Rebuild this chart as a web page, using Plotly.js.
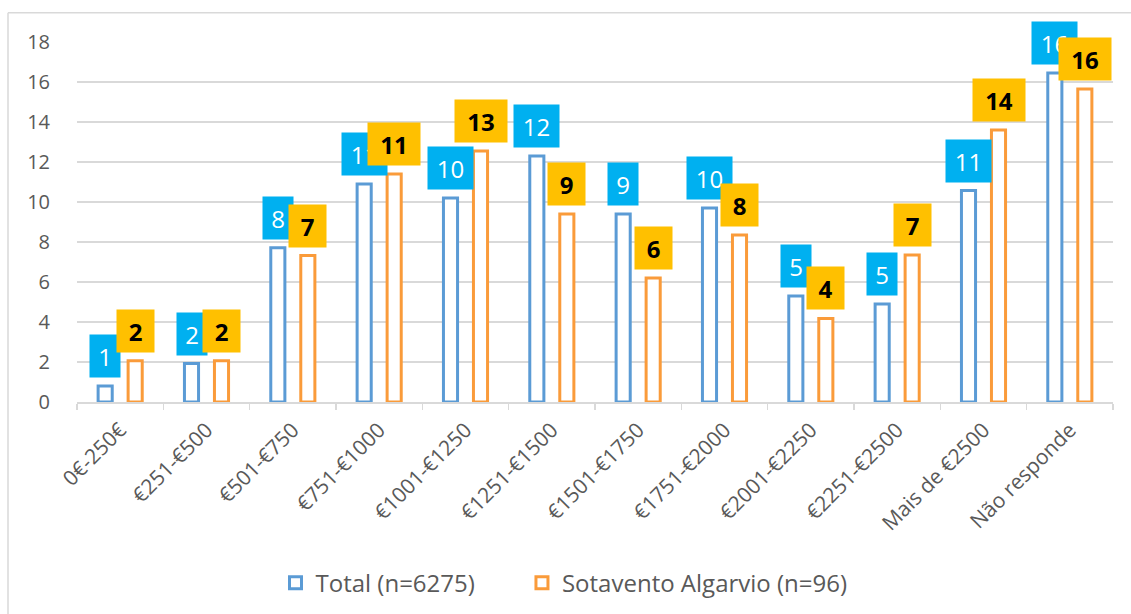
<!DOCTYPE html>
<html>
<head>
<meta charset="utf-8">
<script src="https://cdn.plot.ly/plotly-3.0.1.min.js"></script>
<style>
  html, body { margin: 0; padding: 0; background: #ffffff; }
  #chart { width: 1131px; height: 614px; }
</style>
</head>
<body>
<div id="chart"></div>
<script>
const categories = ['0€-250€', '€251-€500', '€501-€750', '€751-€1000', '€1001-€1250', '€1251-€1500',
  '€1501-€1750', '€1751-€2000', '€2001-€2250', '€2251-€2500', 'Mais de €2500', 'Não responde'];
const totalValues = [0.8, 1.92, 7.71, 10.9, 10.2, 12.3, 9.4, 9.7, 5.3, 4.9, 10.57, 16.45];
const sotaventoValues = [2.06, 2.06, 7.32, 11.4, 12.55, 9.4, 6.2, 8.35, 4.18, 7.35, 13.6, 15.65];
const seriesNames = ['Total (n=6275)', 'Sotavento Algarvio (n=96)'];
const yTicks = [0, 2, 4, 6, 8, 10, 12, 14, 16, 18];

const FONT = 'Open Sans, Noto Sans, DejaVu Sans, sans-serif';
const blue = '#5B9BD5', orange = '#FA9B3A';
const blueBox = '#00B0F0', orangeBox = '#FFC000';

const traces = [
  {
    type: 'bar', name: seriesNames[0], x: categories, y: totalValues,
    marker: { color: '#ffffff', line: { color: blue, width: 3 } },
    legend: 'legend',
    hoverinfo: 'x+y'
  },
  {
    type: 'bar', name: seriesNames[1], x: categories, y: sotaventoValues,
    marker: { color: '#ffffff', line: { color: orange, width: 3 } },
    legend: 'legend2',
    hoverinfo: 'x+y'
  }
];

const annotations = [];
function addLabels(values, shift, bg, fontColor, bold, wSingle, wDouble) {
  values.forEach((v, i) => {
    const txt = String(Math.round(v));
    annotations.push({
      x: categories[i], y: v, xref: 'x', yref: 'y',
      xshift: shift, yshift: 8,
      xanchor: 'center', yanchor: 'bottom',
      text: bold ? '<b>' + txt + '</b>' : txt,
      showarrow: false,
      bgcolor: bg,
      borderpad: 0,
      width: txt.length > 1 ? wDouble : wSingle,
      height: 42,
      align: 'center', valign: 'middle',
      font: { family: FONT, size: 24, color: fontColor }
    });
  });
}
addLabels(totalValues, -15, blueBox, '#ffffff', false, 30, 45);
addLabels(sotaventoValues, 15, orangeBox, '#000000', true, 37, 52);

const legendFont = { family: FONT, size: 24, color: '#595959' };

const layout = {
  width: 1131, height: 614,
  margin: { l: 77, r: 18, t: 42, b: 212, pad: 0, autoexpand: false },
  paper_bgcolor: '#ffffff', plot_bgcolor: '#ffffff',
  barmode: 'group', bargap: 0.305, bargroupgap: 0.53,
  showlegend: true,
  legend: {
    orientation: 'h', x: 0.1916, xanchor: 'left', y: -0.503, yanchor: 'middle',
    font: legendFont, bgcolor: 'rgba(0,0,0,0)'
  },
  legend2: {
    orientation: 'h', x: 0.4295, xanchor: 'left', y: -0.503, yanchor: 'middle',
    font: legendFont, bgcolor: 'rgba(0,0,0,0)'
  },
  xaxis: {
    type: 'category',
    tickangle: -45,
    tickfont: { family: FONT, size: 21, color: '#595959' },
    showline: true, linecolor: '#D9D9D9', linewidth: 1.5,
    ticks: 'outside', tickson: 'boundaries', ticklen: 6, tickcolor: '#D9D9D9', tickwidth: 1.5,
    ticklabelstandoff: 6,
    showgrid: false, zeroline: false, fixedrange: true
  },
  yaxis: {
    range: [0, 18],
    tickvals: yTicks,
    ticktext: yTicks.map(String),
    tickfont: { family: FONT, size: 20, color: '#595959' },
    showgrid: true, gridcolor: '#D9D9D9', gridwidth: 1.5,
    zeroline: false, showline: false, ticks: '',
    ticklabelstandoff: 26,
    fixedrange: true
  },
  annotations: annotations,
  shapes: [
    { type: 'line', xref: 'paper', yref: 'paper', x0: -0.0666, x1: -0.0666, y0: 1.0815, y1: -0.7, line: { color: '#D9D9D9', width: 1.5 } },
    { type: 'line', xref: 'paper', yref: 'paper', x0: -0.0666, x1: 1.03, y0: 1.0815, y1: 1.0815, line: { color: '#D9D9D9', width: 1.5 } }
  ]
};

Plotly.newPlot('chart', traces, layout, { displayModeBar: false, staticPlot: true });
</script>
</body>
</html>
